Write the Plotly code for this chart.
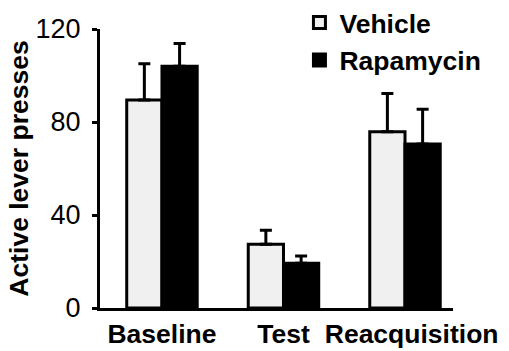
import plotly.graph_objects as go

categories = ["Baseline", "Test", "Reacquisition"]
series_names = ["Vehicle", "Rapamycin"]
vehicle_mean = [89.5, 27.4, 75.8]
vehicle_err = [15.5, 6.0, 16.5]
rapamycin_mean = [104.0, 19.2, 70.5]
rapamycin_err = [9.8, 3.2, 15.0]
y_ticks = [0, 40, 80, 120]

FONT = "Liberation Sans, Arial, sans-serif"

fig = go.Figure()
for name, vals, errs, color in [
    (series_names[0], vehicle_mean, vehicle_err, "#f0f0f0"),
    (series_names[1], rapamycin_mean, rapamycin_err, "#000000"),
]:
    fig.add_trace(go.Bar(
        x=categories, y=vals, name=name, legendgroup=name,
        marker=dict(color=color, line=dict(color="black", width=3)),
        error_y=dict(type="data", array=errs, arrayminus=[0] * len(errs),
                     symmetric=False, color="black", thickness=3, width=6),
    ))

# slight label offset as in the reference layout (visual padding only)
tick_text = [categories[0], categories[1], "\u2002" + categories[2]]

fig.update_layout(
    width=509, height=351,
    margin=dict(l=100, r=56, t=29, b=43, autoexpand=False),
    paper_bgcolor="white", plot_bgcolor="white",
    barmode="group", bargap=0.42, bargroupgap=0,
    font=dict(family=FONT, color="black"),
    showlegend=True,
    legend=dict(x=0.565, y=1.108, xanchor="left", yanchor="top",
                font=dict(size=26.5, family=FONT, weight="bold"),
                bgcolor="rgba(0,0,0,0)", tracegroupgap=0,
                itemclick=False),
    xaxis=dict(range=[-0.51, 2.395], showline=True, linecolor="black", linewidth=3,
               ticks="", showgrid=False, zeroline=False, tickangle=0,
               tickvals=categories, ticktext=tick_text,
               tickfont=dict(size=26.5, family=FONT, weight="bold")),
    yaxis=dict(range=[0, 120], tickvals=y_ticks, showline=True, linecolor="black",
               linewidth=3, ticks="outside", ticklen=5, tickwidth=3, tickcolor="black",
               showgrid=False, zeroline=False, ticklabelstandoff=6, automargin=True,
               tickfont=dict(size=27, family=FONT),
               title=dict(text="Active lever presses", standoff=0,
                          font=dict(size=26.5, family=FONT, weight="bold"))),
)

fig.write_html("out.html", config={"displayModeBar": False},
               post_script="document.body.style.margin='0';")
